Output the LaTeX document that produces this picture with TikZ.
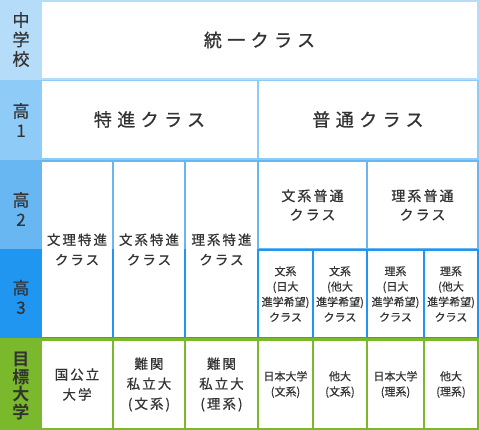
\documentclass[tikz,border=0pt]{standalone}
\usepackage{fontspec}
\setmainfont{Noto Sans CJK JP}[FakeBold=0.5]
\newfontfamily\jpwide{Noto Sans CJK JP}[LetterSpace=30, FakeBold=0.9]
\newfontfamily\jpmid{Noto Sans CJK JP}[LetterSpace=15, FakeBold=0.6]
\newfontfamily\jpheavy{Noto Sans CJK JP Bold}
\usetikzlibrary{positioning}
\definecolor{bandA}{HTML}{B5DCF9}
\definecolor{bandB}{HTML}{8ECBF6}
\definecolor{bandC}{HTML}{69B7F2}
\definecolor{bandD}{HTML}{2196F0}
\definecolor{bandE}{HTML}{7AB82C}
\definecolor{ink}{HTML}{333333}
\tikzset{
  cell/.style={fill=white, anchor=north west, inner sep=0pt, outer sep=0pt,
    align=center, text=ink},
  rowlabel/.style={inner sep=0pt, align=center, text=ink,
    font=\fontsize{17}{19.5}\selectfont},
  bigtxt/.style={font=\jpwide\fontsize{18}{22}\selectfont},
  midtxt/.style={font=\jpmid\fontsize{14}{19}\selectfont},
  coltxt/.style={font=\jpmid\fontsize{13.5}{20}\selectfont},
  smalltxt/.style={font=\fontsize{11}{15.3}\selectfont},
}

\begin{document}
\begin{tikzpicture}[x=1pt, y=1pt]

  \useasboundingbox (0,0) rectangle (479,-430);

  % row bands
  \fill[bandA] (0,0) rectangle (479,-80);
  \fill[bandB] (0,-80) rectangle (479,-160);
  \fill[bandC] (0,-160) rectangle (479,-249);
  \fill[bandD] (0,-249) rectangle (479,-338);
  \fill[bandE] (0,-338) rectangle (479,-430);

  \node[rowlabel] (chu) at (21,-39.5) {中\\学\\校};
  \node[rowlabel] (ko1) at (21,-120) {高\\1};
  \node[rowlabel] (ko2) at (21,-209) {高\\2};
  \node[rowlabel] (ko3) at (21,-297) {高\\3};
  \node[rowlabel, font=\jpheavy\fontsize{17}{17.5}\selectfont]
    (goal) at (21,-386) {目\\標\\大\\学};

  % 中学校
  \node[cell, bigtxt, minimum width=435, minimum height=76]
    (unified) at (42,-2) {統一クラス};

  % 高1
  \node[cell, bigtxt, minimum width=215, minimum height=77]
    (toku1) at (42,-81) {特進クラス};
  \node[cell, bigtxt, minimum width=218, minimum height=77]
    (futsu1) at (259,-81) {普通クラス};

  % 高2 / 高3
  \node[cell, coltxt, minimum width=70, minimum height=175]
    (bunri) at (42,-162) {文理特進\\クラス};
  \node[cell, coltxt, minimum width=70, minimum height=175]
    (bunkei) at (114,-162) {文系特進\\クラス};
  \node[cell, coltxt, minimum width=71, minimum height=175]
    (rikei) at (186,-162) {理系特進\\クラス};
  \node[cell, midtxt, minimum width=107, minimum height=86]
    (bunfutsu) at (259,-162) {文系普通\\クラス};
  \node[cell, midtxt, minimum width=109, minimum height=86]
    (rifutsu) at (368,-162) {理系普通\\クラス};

  \node[cell, smalltxt, minimum width=53, minimum height=86]
    (bunnichi) at (259,-251) {文系\\(日大\\進学希望)\\クラス};
  \node[cell, smalltxt, minimum width=52, minimum height=86]
    (bunta) at (314,-251) {文系\\(他大\\進学希望)\\クラス};
  \node[cell, smalltxt, minimum width=55, minimum height=86]
    (rinichi) at (368,-251) {理系\\(日大\\進学希望)\\クラス};
  \node[cell, smalltxt, minimum width=52, minimum height=86]
    (rita) at (425,-251) {理系\\(他大\\進学希望)\\クラス};

  % 目標大学
  \node[cell, coltxt, minimum width=70, minimum height=87]
    (kokko) at (42,-341) {国公立\\大学};
  \node[cell, coltxt, minimum width=70, minimum height=87]
    (nanbun) at (114,-341) {難関\\私立大\\(文系)};
  \node[cell, coltxt, minimum width=71, minimum height=87]
    (nanri) at (186,-341) {難関\\私立大\\(理系)};
  \node[cell, smalltxt, minimum width=53, minimum height=87]
    (nichibun) at (259,-341) {日本大学\\(文系)};
  \node[cell, smalltxt, minimum width=52, minimum height=87]
    (tabun) at (314,-341) {他大\\(文系)};
  \node[cell, smalltxt, minimum width=55, minimum height=87]
    (nichiri) at (368,-341) {日本大学\\(理系)};
  \node[cell, smalltxt, minimum width=52, minimum height=87]
    (tari) at (425,-341) {他大\\(理系)};

\end{tikzpicture}
\end{document}
